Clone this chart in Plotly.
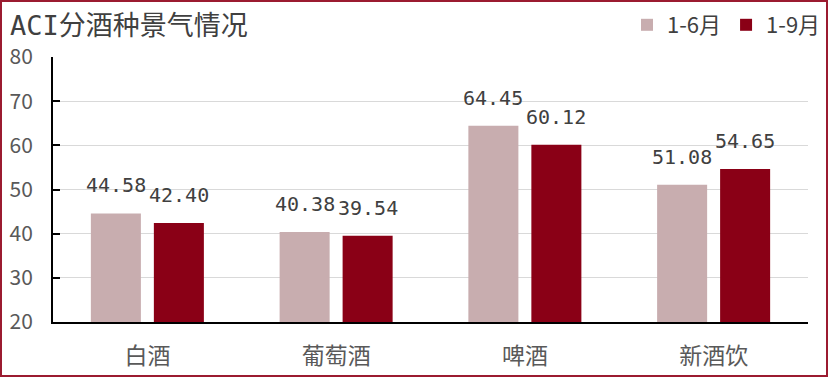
import plotly.graph_objects as go

categories = ["白酒", "葡萄酒", "啤酒", "新酒饮"]
series_names = ["1-6月", "1-9月"]
h1_values = [44.58, 40.38, 64.45, 51.08]
q3_values = [42.40, 39.54, 60.12, 54.65]
y_ticks = [20, 30, 40, 50, 60, 70, 80]

colors = ["#C8ADAF", "#8A0016"]
W, H = 829, 378
ML, MR, MT, MB = 53, 21, 57, 56
FONT = "Noto Sans CJK SC"
MONO = "DejaVu Sans Mono, Noto Sans CJK SC"

fig = go.Figure()
for name, vals, col in zip(series_names, [h1_values, q3_values], colors):
    fig.add_trace(go.Bar(x=categories, y=vals, name=name, marker_color=col,
                         marker_line_width=0))

pw = W - ML - MR
slot = pw / len(categories) * 0.6675 / 2
for vals, sh in zip([h1_values, q3_values], [-slot / 2, slot / 2]):
    for c, v in zip(categories, vals):
        fig.add_annotation(x=c, y=v, text=f"{v:.2f}", showarrow=False,
                           xshift=sh, yshift=14, yanchor="bottom",
                           font=dict(size=20, color="#404040", family=MONO))

px0 = (1 - ML) / pw
px1 = (W - 2 - ML) / pw
ph = H - MT - MB
py0 = (H - MB - (H - 2)) / ph
py1 = (H - MB - 1) / ph
fig.add_shape(type="rect", xref="paper", yref="paper", x0=px0, x1=px1, y0=py0, y1=py1,
              line=dict(color="#9B1B30", width=2))

fig.update_layout(
    width=W, height=H,
    margin=dict(l=ML, r=MR, t=MT, b=MB, autoexpand=False),
    paper_bgcolor="white", plot_bgcolor="white",
    barmode="group", bargap=0.3325, bargroupgap=0.206,
    font=dict(family=FONT, color="#595959"),
    title=dict(text="ACI分酒种景气情况", x=10 / W, xanchor="left", y=1 - 26 / H, yanchor="middle",
               font=dict(size=27, color="#404040", family=MONO)),
    legend=dict(orientation="h", xref="container", yref="container",
                x=826 / W, xanchor="right", y=1 - 25 / H,
                yanchor="middle", font=dict(size=22, color="#404040", family=FONT),
                itemwidth=30, traceorder="normal", bgcolor="rgba(0,0,0,0)"),
    showlegend=True,
)
fig.update_yaxes(range=[20, 80], tickvals=y_ticks, showgrid=True, gridcolor="#D9D9D9", gridwidth=1,
                 showline=True, linecolor="black", linewidth=2, ticks="inside", ticklen=7,
                 tickcolor="black", tickwidth=2, tickfont=dict(size=21, color="#595959"),
                 ticklabelstandoff=14, zeroline=False, automargin=False)
fig.update_xaxes(showline=True, linecolor="black", linewidth=2, ticks="",
                 tickfont=dict(size=23, color="#595959"), ticklabelstandoff=12, automargin=False)

fig.write_html("out.html")
